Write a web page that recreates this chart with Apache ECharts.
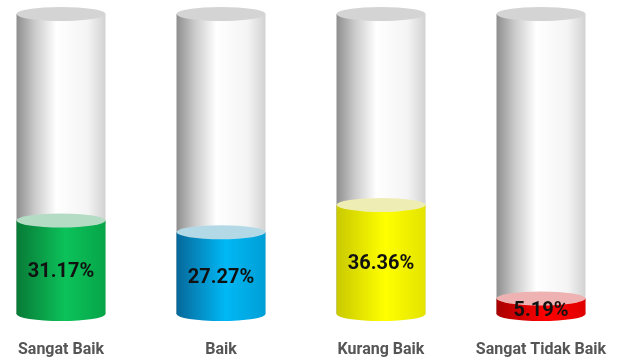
<!DOCTYPE html>
<html>
<head>
<meta charset="utf-8">
<script src="https://cdn.jsdelivr.net/npm/echarts@6/dist/echarts.min.js"></script>
<style>
  html, body { margin: 0; padding: 0; background: #fff; overflow: hidden; }
  #chart { width: 640px; height: 358px; position: relative; left: -19px; }
</style>
</head>
<body>
<div id="chart"></div>
<script>
var categories = ["Sangat Baik", "Baik", "Kurang Baik", "Sangat Tidak Baik"];
var values = [31.17, 27.27, 36.36, 5.19];
var fullValues = [100, 100, 100, 100];

// side gradient [dark, bright, right edge] and lid colour per bar
var sideColors = [
  ["#087a36", "#0cc25a", "#06a548"],
  ["#07689a", "#00b8f5", "#009fd6"],
  ["#c9c900", "#ffff00", "#e3e300"],
  ["#a80000", "#ff0000", "#e00000"]
];
var lidColors = ["#b4dcc4", "#b3d9e6", "#eeeeb4", "#efb2b2"];

var myChart = echarts.init(document.getElementById("chart"));

function sideGradient(c) {
  return new echarts.graphic.LinearGradient(0, 0, 1, 0, [
    { offset: 0, color: c[0] },
    { offset: 0.55, color: c[1] },
    { offset: 1, color: c[2] }
  ]);
}

var glass = new echarts.graphic.LinearGradient(0, 0, 1, 0, [
  { offset: 0, color: "#8e8e8e" },
  { offset: 0.2, color: "#c9c9c9" },
  { offset: 0.45, color: "#ffffff" },
  { offset: 0.8, color: "#f4f4f4" },
  { offset: 1, color: "#d2d2d2" }
]);

var W = 89;
var H = 14;

var fillData = values.map(function (v, i) {
  return { value: v, itemStyle: { color: sideGradient(sideColors[i]) } };
});
var lidData = values.map(function (v, i) {
  return { value: v, itemStyle: { color: lidColors[i] } };
});
var bottomData = values.map(function (v, i) {
  return { value: v, itemStyle: { color: sideGradient(sideColors[i]) } };
});

var option = {
  animation: false,
  grid: { left: 0, right: 0, top: 14, bottom: 44 },
  xAxis: {
    type: "category",
    data: categories,
    axisLine: { show: false },
    axisTick: { show: false },
    axisLabel: {
      interval: 0,
      margin: 28,
      color: "#555555",
      fontWeight: "bold",
      fontSize: 16,
      fontFamily: "Roboto"
    }
  },
  yAxis: { type: "value", min: 0, max: 100, show: false },
  series: [
    {
      type: "bar",
      data: fullValues,
      barWidth: W,
      barGap: "-100%",
      itemStyle: { color: glass },
      z: 1
    },
    {
      type: "pictorialBar",
      data: fullValues,
      symbol: "circle",
      symbolSize: [W, H],
      symbolPosition: "end",
      symbolOffset: [0, -H / 2],
      itemStyle: { color: "#d4d4d4" },
      z: 2
    },
    {
      type: "pictorialBar",
      data: bottomData,
      symbol: "circle",
      symbolSize: [W, H],
      symbolOffset: [0, H / 2],
      z: 3
    },
    {
      type: "bar",
      data: fillData,
      barWidth: W,
      barGap: "-100%",
      z: 4
    },
    {
      type: "pictorialBar",
      data: lidData,
      symbol: "circle",
      symbolSize: [W, H],
      symbolPosition: "end",
      symbolOffset: [0, -H / 2],
      z: 5
    },
    {
      // invisible copy carrying the value labels above the lids
      type: "bar",
      data: values,
      barWidth: W,
      barGap: "-100%",
      itemStyle: { color: "rgba(0,0,0,0)" },
      z: 6,
      label: {
        show: true,
        position: "inside",
        offset: [0, 5],
        formatter: "{c}%",
        color: "#111111",
        fontWeight: "bold",
        fontSize: 20,
        fontFamily: "Roboto"
      }
    }
  ]
};

myChart.setOption(option);
</script>
</body>
</html>
